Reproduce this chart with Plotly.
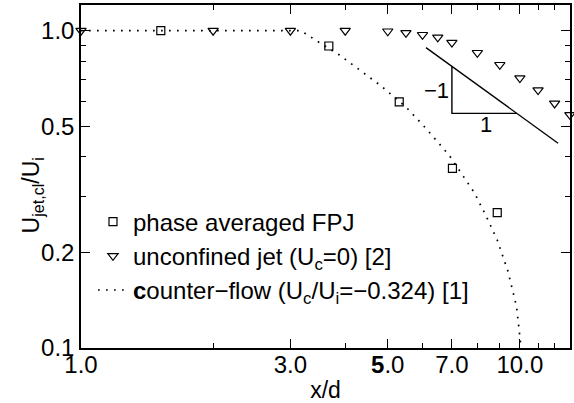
import numpy as np
import plotly.graph_objects as go

# ---- data ----
fpj_x = [1.52, 3.67, 5.31, 7.02, 8.88]
fpj_y = [1.0, 0.895, 0.597, 0.368, 0.267]

jet_x = [1.0, 2.0, 3.0, 4.0, 5.0, 5.5, 6.0, 6.5, 7.0, 8.0, 9.0, 10.0, 11.0, 12.0, 13.0]
jet_y = [1.0, 1.0, 1.0, 1.0, 0.996, 0.985, 0.971, 0.953, 0.917, 0.852, 0.781, 0.709, 0.650, 0.590, 0.543]

cf_x = [1.0, 3.17, 3.44, 3.88, 4.32, 4.82, 5.50, 6.11, 6.90, 7.86, 8.36, 8.88, 9.40, 9.83, 10.03, 10.1]
cf_y = [1.0, 1.0, 0.93, 0.838, 0.751, 0.671, 0.575, 0.492, 0.405, 0.310, 0.262, 0.219, 0.174, 0.1347, 0.1044, 0.098]

slope_x = [6.11, 12.22]
slope_y = [0.884, 0.442]

tri_x = [7.0, 7.0, 9.84]
tri_y = [0.771, 0.549, 0.549]

xtick_vals = [1, 3, 5, 7, 10]
xtick_text = ["1.0", "3.0", "<b>5</b>.0", "7.0", "10.0"]
xminor_vals = [2, 4, 6, 8, 9, 11, 12]
ytick_vals = [0.1, 0.2, 0.5, 1.0]
ytick_text = ["0.1", "0.2", "0.5", "1.0"]
yminor_vals = [0.3, 0.4, 0.6, 0.7, 0.8, 0.9]

FONT = "Liberation Sans, Arial, sans-serif"
FS_TICK = 24
FS_LEG = 24
FS_TITLE = 23
FS_ANN = 22

fig = go.Figure()

fig.add_trace(go.Scatter(
    x=cf_x, y=cf_y, mode="lines",
    line=dict(color="black", width=1.7, dash="1.7px,6.3px"),
    name="<b>c</b>ounter\u2212flow (U<sub>c</sub>/U<sub>i</sub>=\u22120.324) [1]",
    legendrank=3))

fig.add_trace(go.Scatter(
    x=slope_x, y=slope_y, mode="lines",
    line=dict(color="black", width=1.4), showlegend=False))
fig.add_trace(go.Scatter(
    x=tri_x, y=tri_y, mode="lines",
    line=dict(color="black", width=1.4), showlegend=False))

fig.add_trace(go.Scatter(
    x=fpj_x, y=fpj_y, mode="markers",
    marker=dict(symbol="square-open", size=8, color="black", line=dict(width=1.2)),
    name="phase averaged FPJ", legendrank=1))

fig.add_trace(go.Scatter(
    x=jet_x, y=jet_y, mode="markers", cliponaxis=False,
    marker=dict(symbol="triangle-down-open", size=9, color="black", line=dict(width=1.2)),
    name="unconfined jet (U<sub>c</sub>=0) [2]", legendrank=2))

fig.add_annotation(x=np.log10(6.97), y=np.log10(0.65), xref="x", yref="y",
                   text="\u22121", showarrow=False, xanchor="right", yanchor="middle",
                   font=dict(family=FONT, size=FS_ANN, color="black"))
fig.add_annotation(x=np.log10(8.37), y=np.log10(0.505), xref="x", yref="y",
                   text="1", showarrow=False, xanchor="center", yanchor="middle",
                   font=dict(family=FONT, size=FS_ANN, color="black"))

fig.add_annotation(x=-0.1, y=0.445, xref="paper", yref="paper",
                   text="U<sub>jet,cl</sub>/U<sub>i</sub>", textangle=-90,
                   showarrow=False, xanchor="center", yanchor="middle",
                   font=dict(family=FONT, size=FS_TITLE, color="black"))

axis_common = dict(
    type="log", showgrid=False, zeroline=False, automargin=False,
    showline=True, linecolor="black", linewidth=1.5, mirror="ticks",
    ticks="inside", ticklen=9, tickwidth=1.2, tickcolor="black",
    tickfont=dict(family=FONT, size=FS_TICK, color="black"),
    tickmode="array",
)

fig.update_xaxes(**axis_common, range=[0, 1.1142],
                 tickvals=xtick_vals, ticktext=xtick_text, ticklabelstandoff=-6,
                 minor=dict(tickmode="array", tickvals=xminor_vals, ticks="inside",
                            ticklen=5, tickwidth=1.2, tickcolor="black", showgrid=False),
                 title=dict(text="x/d", font=dict(family=FONT, size=FS_TITLE, color="black"),
                            standoff=6))
fig.update_yaxes(**axis_common, range=[-1, 0.081],
                 tickvals=ytick_vals, ticktext=ytick_text,
                 minor=dict(tickmode="array", tickvals=yminor_vals, ticks="inside",
                            ticklen=5, tickwidth=1.2, tickcolor="black", showgrid=False))

fig.update_layout(
    width=574, height=403,
    margin=dict(l=81, r=4, t=5, b=55),
    paper_bgcolor="white", plot_bgcolor="white",
    font=dict(family=FONT, size=FS_TICK, color="black"),
    legend=dict(x=0.0245, y=0.433, xanchor="left", yanchor="top",
                bgcolor="rgba(0,0,0,0)", font=dict(family=FONT, size=FS_LEG, color="black"),
                tracegroupgap=0),
)

fig.write_html("out.html", config={"displayModeBar": False},
               post_script="document.body.style.margin='0px';")
